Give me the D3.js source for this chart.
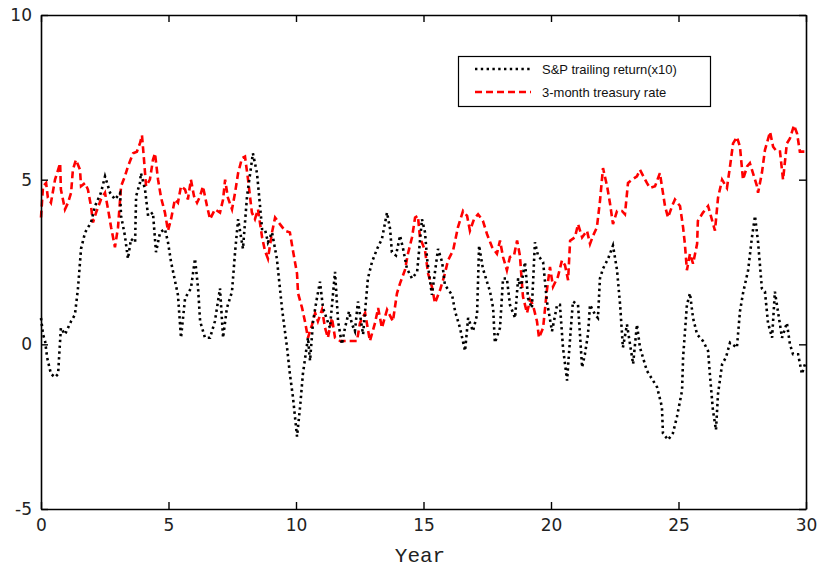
<!DOCTYPE html>
<html>
<head>
<meta charset="utf-8">
<script src="https://cdn.jsdelivr.net/npm/d3@7"></script>
<style>
  html, body { margin: 0; padding: 0; background: #fff; }
  svg { display: block; }
</style>
</head>
<body>
<svg id="chart" width="820" height="571"></svg>
<script>
// ---- data ----
const spYears = [0.00,0.08,0.16,0.24,0.39,0.55,0.67,0.78,0.94,1.18,1.33,1.45,1.57,1.73,1.96,2.12,2.35,2.51,2.71,2.90,3.10,3.14,3.29,3.41,3.53,3.69,3.73,3.88,3.92,4.08,4.20,4.39,4.51,4.67,4.86,4.98,5.10,5.37,5.49,5.65,5.88,6.04,6.16,6.24,6.43,6.63,6.82,7.02,7.14,7.29,7.49,7.61,7.73,7.92,8.08,8.31,8.47,8.59,8.67,8.78,8.90,9.06,9.25,9.45,9.65,9.76,9.88,10.04,10.16,10.27,10.47,10.55,10.67,10.82,10.94,11.06,11.33,11.53,11.65,11.80,11.92,12.08,12.20,12.31,12.43,12.63,12.82,12.98,13.18,13.37,13.57,13.69,13.76,13.92,14.08,14.20,14.35,14.55,14.75,14.94,15.06,15.14,15.33,15.45,15.57,15.73,15.84,16.12,16.24,16.43,16.63,16.75,16.94,17.10,17.18,17.33,17.49,17.61,17.73,17.80,18.00,18.12,18.27,18.39,18.59,18.71,18.82,18.98,19.10,19.25,19.37,19.49,19.69,19.84,20.04,20.24,20.35,20.47,20.63,20.75,20.86,21.06,21.22,21.33,21.45,21.53,21.73,21.84,21.92,22.04,22.24,22.43,22.59,22.71,22.82,22.98,23.22,23.37,23.49,23.76,24.00,24.16,24.35,24.39,24.59,24.78,24.94,25.14,25.18,25.33,25.45,25.57,25.73,25.96,26.16,26.24,26.35,26.47,26.55,26.71,26.86,27.02,27.29,27.41,27.53,27.73,27.88,28.00,28.12,28.27,28.39,28.51,28.67,28.78,28.90,29.06,29.25,29.37,29.49,29.69,29.84,29.96];
const spValues = [0.8,0.3,0.1,-0.4,-0.9,-1.0,-0.9,0.5,0.3,0.7,0.9,1.7,2.9,3.4,3.7,4.2,4.6,5.1,4.6,4.4,4.6,3.9,3.3,2.6,3.2,3.1,4.5,4.9,5.2,4.7,3.9,4.0,2.8,3.4,3.5,3.1,2.5,1.5,0.2,1.4,1.7,2.6,1.7,0.7,0.2,0.2,0.7,1.7,0.2,1.1,1.6,2.8,3.8,2.9,4.5,5.8,5.2,4.2,3.5,3.5,3.1,3.4,2.6,1.1,-0.1,-0.9,-1.6,-2.8,-1.9,-0.9,0.2,-0.5,0.7,1.4,1.9,1.1,0.5,2.2,0.7,0.0,0.5,1.0,0.6,0.4,1.3,0.3,2.0,2.5,2.9,3.2,4.0,3.5,2.8,2.7,3.3,2.9,2.3,2.0,2.2,3.8,3.4,2.6,1.5,2.2,2.9,2.5,1.8,1.5,1.0,0.5,-0.2,0.8,0.4,0.9,3.0,2.3,1.9,1.6,1.1,0.05,0.5,2.0,2.0,1.2,0.8,2.0,1.7,2.5,1.4,1.1,3.1,2.7,2.5,1.3,0.4,1.2,1.2,-0.1,-1.1,0.2,1.3,1.2,-0.7,-0.3,0.3,1.2,0.9,0.8,2.0,2.3,2.6,3.0,2.25,1.2,-0.1,0.6,-0.6,0.6,-0.1,-0.8,-1.1,-1.3,-1.9,-2.7,-2.9,-2.7,-2.2,-1.4,-0.4,1.2,1.55,0.8,0.3,0.1,-0.2,-1.0,-2.0,-2.6,-1.5,-0.6,-0.4,0.05,-0.1,1.0,1.55,2.25,3.25,3.9,3.1,1.7,1.6,0.65,0.2,1.6,1.0,0.2,0.65,0.0,-0.3,-0.3,-0.9,-0.6];

const tbYears = [0.00,0.08,0.20,0.27,0.39,0.55,0.67,0.75,0.78,0.94,1.06,1.18,1.25,1.37,1.53,1.57,1.73,1.84,1.96,2.04,2.16,2.35,2.51,2.63,2.75,2.90,3.02,3.14,3.29,3.41,3.61,3.76,3.88,3.96,4.04,4.12,4.27,4.39,4.47,4.59,4.71,4.86,4.98,5.10,5.25,5.37,5.49,5.65,5.76,5.88,6.00,6.12,6.24,6.35,6.51,6.63,6.82,7.02,7.14,7.22,7.33,7.49,7.61,7.73,7.88,8.00,8.12,8.27,8.39,8.51,8.67,8.78,8.90,9.06,9.18,9.37,9.57,9.76,9.88,10.04,10.08,10.24,10.35,10.47,10.63,10.75,10.86,11.02,11.14,11.25,11.41,11.53,11.73,12.00,12.20,12.39,12.51,12.71,12.90,13.10,13.22,13.37,13.57,13.80,13.96,14.08,14.27,14.39,14.55,14.67,14.78,14.86,15.06,15.18,15.33,15.45,15.65,15.84,15.96,16.16,16.35,16.55,16.71,16.82,16.98,17.14,17.33,17.49,17.69,17.88,18.00,18.12,18.27,18.39,18.55,18.67,18.78,18.90,19.06,19.18,19.29,19.45,19.53,19.69,19.84,19.96,20.08,20.27,20.43,20.55,20.67,20.75,20.94,21.06,21.22,21.41,21.53,21.65,21.80,21.92,22.04,22.20,22.31,22.43,22.59,22.78,22.90,23.02,23.18,23.37,23.49,23.76,23.88,24.08,24.27,24.39,24.47,24.59,24.75,24.86,25.06,25.18,25.25,25.33,25.45,25.57,25.73,25.76,25.96,26.16,26.27,26.43,26.55,26.71,26.90,27.02,27.14,27.29,27.41,27.53,27.69,27.80,27.92,28.08,28.12,28.27,28.39,28.59,28.71,28.86,28.98,29.10,29.25,29.37,29.53,29.65,29.76,30.00];
const tbValues = [3.85,4.8,4.9,4.45,4.3,5.0,5.3,5.5,4.7,4.1,4.3,4.6,5.3,5.6,5.3,4.8,4.9,4.7,4.2,3.7,4.0,4.4,4.6,4.1,3.55,2.95,3.55,4.8,5.1,5.4,5.8,5.85,6.1,6.35,5.6,4.8,5.0,5.6,5.8,5.0,4.45,4.0,3.45,3.8,4.4,4.3,4.8,4.7,4.4,5.0,4.5,4.3,4.5,4.8,4.2,3.8,4.1,4.0,4.4,5.0,4.45,4.1,4.6,5.2,5.65,5.7,5.0,4.0,3.8,4.1,3.25,2.85,2.6,3.4,3.85,3.65,3.45,3.4,2.85,2.15,1.55,1.1,0.7,0.2,0.6,0.95,0.7,1.05,0.5,0.2,0.8,0.2,0.1,0.1,0.1,0.1,0.65,0.95,0.1,0.65,1.1,0.5,1.05,0.7,1.55,1.85,2.25,2.75,3.25,3.85,3.9,3.25,2.85,2.15,1.75,1.25,1.65,2.15,2.55,2.85,3.55,4.05,3.9,3.45,3.8,3.95,3.75,3.35,2.95,2.75,3.15,2.65,2.25,2.65,2.7,3.15,2.7,1.45,0.95,1.35,1.2,0.7,0.2,0.5,1.65,2.35,1.75,2.05,2.55,2.4,1.95,3.15,3.25,3.65,3.25,3.45,3.05,3.3,3.55,4.35,5.35,4.8,4.3,3.65,4.05,4.05,3.95,4.9,5.0,5.1,5.3,4.9,4.75,4.8,5.2,4.6,4.2,3.85,4.2,4.4,4.2,3.55,3.05,2.25,2.75,2.45,3.05,3.75,4.0,4.2,3.9,3.45,4.45,5.0,4.75,5.4,6.1,6.3,6.0,5.0,5.4,5.5,5.2,4.8,4.6,5.2,5.9,6.45,6.0,5.85,5.85,5.0,6.1,6.25,6.65,6.4,5.85,5.85];

const xTicks = [0, 5, 10, 15, 20, 25, 30];
const yTicks = [-5, 0, 5, 10];
const seriesNames = ["S&P trailing return(x10)", "3-month treasury rate"];
const xLabel = "Year";

// ---- drawing ----
const svg = d3.select("#chart");
const plotLeft = 41, plotRight = 806, plotTop = 15, plotBottom = 509;
const x = d3.scaleLinear().domain([0, 30]).range([plotLeft, plotRight]);
const y = d3.scaleLinear().domain([-5, 10]).range([plotBottom, plotTop]);

const tickFont = "DejaVu Sans, sans-serif";
const plainFmt = d => String(d);

// data lines
const spData = spYears.map((t, i) => [t, spValues[i]]);
const tbData = tbYears.map((t, i) => [t, tbValues[i]]);
const line = d3.line().x(d => x(d[0])).y(d => y(d[1]));

svg.append("path").datum(tbData)
  .attr("d", line).attr("fill", "none")
  .attr("stroke", "#ff0000").attr("stroke-width", 2.6)
  .attr("stroke-dasharray", "7,4");

svg.append("path").datum(spData)
  .attr("d", line).attr("fill", "none")
  .attr("stroke", "#000").attr("stroke-width", 2.6)
  .attr("stroke-dasharray", "2.4,3.4");

// axes (ticks inside, on all four sides)
function styleAxis(g, showLabels) {
  g.select(".domain").attr("stroke", "#000").attr("stroke-width", 1.6);
  g.selectAll(".tick line").attr("stroke", "#000").attr("stroke-width", 1.4);
  g.selectAll(".tick text")
    .attr("font-family", tickFont).attr("font-size", 17).attr("fill", "#222")
    .style("display", showLabels ? null : "none");
}

const gx = svg.append("g").attr("transform", `translate(0,${plotBottom})`)
  .call(d3.axisBottom(x).tickValues(xTicks).tickFormat(plainFmt)
    .tickSizeInner(-7).tickSizeOuter(0).tickPadding(10));
styleAxis(gx, true);

const gxt = svg.append("g").attr("transform", `translate(0,${plotTop})`)
  .call(d3.axisTop(x).tickValues(xTicks).tickSizeInner(-7).tickSizeOuter(0));
styleAxis(gxt, false);

const gy = svg.append("g").attr("transform", `translate(${plotLeft},0)`)
  .call(d3.axisLeft(y).tickValues(yTicks).tickFormat(plainFmt)
    .tickSizeInner(-7).tickSizeOuter(0).tickPadding(9));
styleAxis(gy, true);

const gyr = svg.append("g").attr("transform", `translate(${plotRight},0)`)
  .call(d3.axisRight(y).tickValues(yTicks).tickSizeInner(-7).tickSizeOuter(0));
styleAxis(gyr, false);

// x axis label
svg.append("text").attr("x", 420).attr("y", 562)
  .attr("text-anchor", "middle")
  .attr("font-family", "Liberation Mono, Courier New, monospace")
  .attr("font-size", 21).attr("fill", "#222")
  .text(xLabel);

// legend
const lg = svg.append("g");
lg.append("rect").attr("x", 458.5).attr("y", 56.5).attr("width", 252).attr("height", 50)
  .attr("fill", "#fff").attr("stroke", "#000").attr("stroke-width", 1.2);
const legendRows = [
  { name: seriesNames[0], color: "#000", dash: "2.4,3.4", y: 69 },
  { name: seriesNames[1], color: "#ff0000", dash: "7,4", y: 92 }
];
legendRows.forEach(r => {
  lg.append("line").attr("x1", 475).attr("x2", 531).attr("y1", r.y).attr("y2", r.y)
    .attr("stroke", r.color).attr("stroke-width", 2.6).attr("stroke-dasharray", r.dash);
  lg.append("text").attr("x", 542).attr("y", r.y + 5)
    .attr("font-family", "Liberation Sans, Arial, sans-serif")
    .attr("font-size", 13).attr("fill", "#111")
    .text(r.name);
});
</script>
</body>
</html>
